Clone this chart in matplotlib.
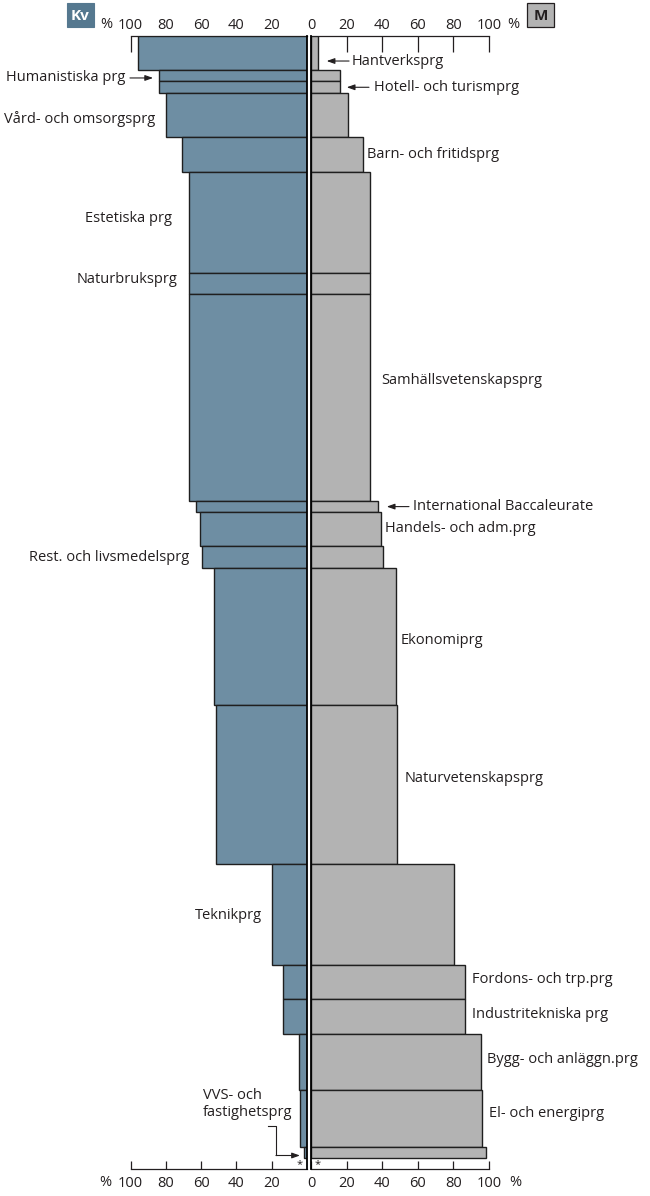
import matplotlib
matplotlib.use("Agg")
import numpy as np
import matplotlib.pyplot as plt
from matplotlib.patches import Rectangle

FIG_W, FIG_H = 650, 1196

WOMEN_COLOR = "#6e8ea3"
MEN_COLOR = "#b3b3b3"
EDGE_COLOR = "#1f1f1f"
TEXT_COLOR = "#231f20"
KV_COLOR = "#55788f"
FS = 10.5

plt.rcParams["font.family"] = ["Open Sans", "DejaVu Sans"]
plt.rcParams["font.size"] = FS

# programmes, top to bottom
PROGRAMS = [
    "Hantverksprg", "Humanistiska prg", "Hotell- och turismprg",
    "Vård- och omsorgsprg", "Barn- och fritidsprg", "Estetiska prg",
    "Naturbruksprg", "Samhällsvetenskapsprg", "International Baccaleurate",
    "Handels- och adm.prg", "Rest. och livsmedelsprg", "Ekonomiprg",
    "Naturvetenskapsprg", "Teknikprg", "Fordons- och trp.prg",
    "Industritekniska prg", "Bygg- och anläggn.prg", "El- och energiprg",
    "VVS- och\nfastighetsprg",
]
# share of all pupils (%) -> row height
SHARE = [3.03, 0.98, 1.10, 3.92, 3.09, 9.03, 1.87, 18.39, 1.01, 3.00,
         1.96, 12.21, 14.17, 9.05, 3.03, 3.07, 5.02, 5.08, 1.01]
# women / men (%)
WOMEN = [95.8, 83.7, 83.7, 79.7, 70.6, 66.7, 66.7, 66.7, 62.7, 60.6,
         59.5, 52.5, 51.5, 19.5, 13.4, 13.4, 4.4, 3.6, 1.5]
MEN = [4.1, 16.2, 16.2, 20.5, 29.2, 33.3, 33.3, 33.3, 37.5, 39.4,
       40.3, 47.5, 48.2, 80.2, 86.3, 86.3, 95.3, 96.2, 98.1]

TICKS = [0, 20, 40, 60, 80, 100]

# label layout: (programme index, x in % of that side, y in row units, arrow (tail, tip) or None)
RIGHT_LABELS = [
    (0, 22.9, 2.23, (21.3, 8.7)),
    (2, 35.3, 4.57, (32.5, 20.0)),
    (4, 31.4, 10.60, None),
    (7, 39.3, 30.71, None),
    (8, 57.1, 41.94, (55.0, 42.5)),
    (9, 41.5, 43.86, None),
    (11, 50.5, 53.88, None),
    (12, 52.8, 66.20, None),
    (14, 90.3, 84.11, None),
    (15, 90.3, 87.17, None),
    (16, 98.7, 91.24, None),
    (17, 100.0, 95.99, None),
]
LEFT_LABELS = [
    (1, 103.1, 3.74, (100.3, 87.2)),
    (3, 86.1, 7.42, None),
    (5, 76.6, 16.24, None),
    (6, 73.5, 21.68, None),
    (10, 66.6, 46.48, None),
    (13, 25.6, 78.39, None),
]


def px(x, y):
    return x / FIG_W, 1 - y / FIG_H


def arrow(ax, tail, tip, y):
    ax.annotate("", xy=(tip, y), xytext=(tail, y), annotation_clip=False,
                arrowprops=dict(arrowstyle="-|>,head_length=0.45,head_width=0.16",
                                color=TEXT_COLOR, lw=0.8, shrinkA=0, shrinkB=0))


def main():
    share = np.array(SHARE)
    tops = np.concatenate([[0], np.cumsum(share)[:-1]])
    y_bottom = share.sum() + 0.98

    fig = plt.figure(figsize=(FIG_W / 100, FIG_H / 100), dpi=100)
    bottom = 1 - 1169.3 / FIG_H
    height = 1133.3 / FIG_H
    ax_l = fig.add_axes([130.5 / FIG_W, bottom, 176.3 / FIG_W, height])
    ax_r = fig.add_axes([311.2 / FIG_W, bottom, 177.8 / FIG_W, height])

    ax_l.barh(tops, WOMEN, height=share, align="edge", color=WOMEN_COLOR,
              edgecolor=EDGE_COLOR, linewidth=1.0)
    ax_r.barh(tops, MEN, height=share, align="edge", color=MEN_COLOR,
              edgecolor=EDGE_COLOR, linewidth=1.0)

    ax_l.set_xlim(100, 0)
    ax_r.set_xlim(0, 100)
    tops_axes = []
    for ax in (ax_l, ax_r):
        ax.set_ylim(y_bottom, 0)
        ax.set_yticks([])
        ax.patch.set_alpha(0)
        ax.spines["top"].set_visible(False)
        ax.spines["bottom"].set_linewidth(0.9)
        ax.spines["bottom"].set_color(TEXT_COLOR)
        ax.tick_params(axis="x", direction="in", length=5.8, width=0.9,
                       color=TEXT_COLOR, labelcolor=TEXT_COLOR, labelsize=FS, pad=4.5)
        top = ax.secondary_xaxis("top")
        top.spines["top"].set_linewidth(0.9)
        top.spines["top"].set_color(TEXT_COLOR)
        top.tick_params(axis="x", direction="in", length=11.5, width=0.9,
                        color=TEXT_COLOR, labelcolor=TEXT_COLOR, labelsize=FS, pad=2.5)
        tops_axes.append(top)

    ax_l.spines["left"].set_visible(False)
    ax_l.spines["right"].set_linewidth(1.3)
    ax_l.spines["right"].set_color("black")
    ax_l.spines["right"].set_zorder(5)
    ax_r.spines["right"].set_visible(False)
    ax_r.spines["left"].set_linewidth(1.3)
    ax_r.spines["left"].set_color("black")
    ax_r.spines["left"].set_zorder(5)

    ax_l.set_xticks(TICKS[1:])
    tops_axes[0].set_xticks(TICKS[1:])
    ax_r.set_xticks(TICKS)
    tops_axes[1].set_xticks(TICKS)

    for idx, x, y, arr in RIGHT_LABELS:
        ax_r.text(x, y, PROGRAMS[idx], ha="left", va="center", color=TEXT_COLOR,
                  fontsize=FS, clip_on=False)
        if arr:
            arrow(ax_r, arr[0], arr[1], y)
    for idx, x, y, arr in LEFT_LABELS:
        ax_l.text(x, y, PROGRAMS[idx], ha="right", va="center", color=TEXT_COLOR,
                  fontsize=FS, clip_on=False)
        if arr:
            arrow(ax_l, arr[0], arr[1], y)

    # VVS label with elbow arrow
    ax_l.text(59.0, 95.18, PROGRAMS[18], ha="left", va="center", color=TEXT_COLOR,
              fontsize=FS, linespacing=1.15, clip_on=False)
    ax_l.plot([21.8, 17.5, 17.5], [97.10, 97.10, 99.77], color=TEXT_COLOR, lw=0.8,
              clip_on=False)
    arrow(ax_l, 17.5, 3.9, 99.77)

    ax_l.text(4.3, 100.55, "*", ha="center", va="center", fontsize=8, color=TEXT_COLOR)
    ax_r.text(3.4, 100.55, "*", ha="center", va="center", fontsize=8, color=TEXT_COLOR)

    # percent signs
    for x, y in [(106, 24), (513, 24), (105, 1183), (515, 1183)]:
        fig.text(*px(x, y), "%", ha="center", va="center", fontsize=FS, color=TEXT_COLOR)

    # Kv / M boxes
    fig.patches.append(Rectangle(px(67, 27), 27 / FIG_W, 24 / FIG_H,
                                 transform=fig.transFigure, facecolor=KV_COLOR,
                                 edgecolor=KV_COLOR, lw=0.8))
    fig.text(*px(80.5, 15.5), "Kv", ha="center", va="center", fontsize=11,
             fontweight="bold", color="white")
    fig.patches.append(Rectangle(px(527, 27), 27 / FIG_W, 24 / FIG_H,
                                 transform=fig.transFigure, facecolor=MEN_COLOR,
                                 edgecolor=TEXT_COLOR, lw=0.9))
    fig.text(*px(540.5, 15.5), "M", ha="center", va="center", fontsize=11,
             fontweight="bold", color=TEXT_COLOR)

    fig.savefig("out.png", dpi=100)


if __name__ == "__main__":
    main()
